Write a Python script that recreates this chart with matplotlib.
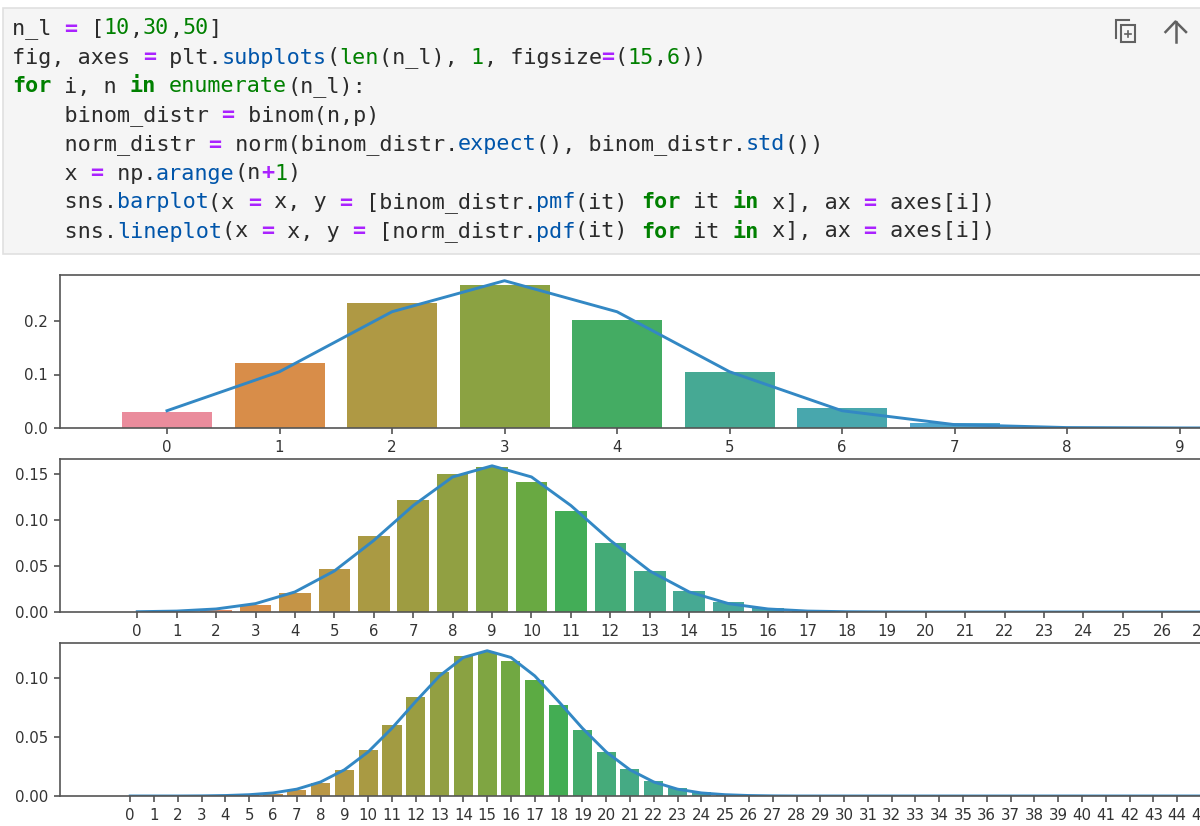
import matplotlib
matplotlib.use("Agg")
import matplotlib.pyplot as plt
import seaborn as sns
from matplotlib.patches import Rectangle

W, H = 1200, 826

# ----------------
# data
# ----------------
pmf_10 = [0.029, 0.122, 0.234, 0.267, 0.201, 0.104, 0.038, 0.009, 0.001, 0.0001, 0.0]
pdf_10 = [0.0323, 0.1052, 0.2173, 0.2753, 0.2173, 0.1052, 0.0323, 0.0063, 0.0008, 0.0001, 0.0]

pmf_30 = [0.0, 0.0003, 0.0018, 0.0072, 0.0209, 0.0464, 0.0829, 0.1219, 0.1501, 0.1573,
          0.1416, 0.1103, 0.0749, 0.0444, 0.0231, 0.0106, 0.0042, 0.0015, 0.0005, 0.0001,
          0.0, 0.0, 0.0, 0.0, 0.0, 0.0, 0.0, 0.0, 0.0, 0.0, 0.0]
pdf_30 = [0.0003, 0.001, 0.0033, 0.0091, 0.0218, 0.0446, 0.0778, 0.1157, 0.1468, 0.1589,
          0.1468, 0.1157, 0.0778, 0.0446, 0.0218, 0.0091, 0.0033, 0.001, 0.0003, 0.0001,
          0.0, 0.0, 0.0, 0.0, 0.0, 0.0, 0.0, 0.0, 0.0, 0.0, 0.0]

pmf_50 = [0.0, 0.0, 0.0, 0.0, 0.0001, 0.0006, 0.0018, 0.0048, 0.011, 0.022,
          0.0386, 0.0602, 0.0838, 0.105, 0.1189, 0.1223, 0.1147, 0.0983, 0.0772, 0.0557,
          0.037, 0.0227, 0.0128, 0.0067, 0.0032, 0.0014, 0.0006, 0.0002, 0.0001, 0.0,
          0.0, 0.0, 0.0, 0.0, 0.0, 0.0, 0.0, 0.0, 0.0, 0.0,
          0.0, 0.0, 0.0, 0.0, 0.0, 0.0, 0.0, 0.0, 0.0, 0.0, 0.0]
pdf_50 = [0.0, 0.0, 0.0, 0.0001, 0.0004, 0.0011, 0.0026, 0.0058, 0.0119, 0.0222,
          0.0374, 0.0575, 0.0802, 0.1018, 0.1174, 0.1231, 0.1174, 0.1018, 0.0802, 0.0575,
          0.0374, 0.0222, 0.0119, 0.0058, 0.0026, 0.0011, 0.0004, 0.0001, 0.0, 0.0,
          0.0, 0.0, 0.0, 0.0, 0.0, 0.0, 0.0, 0.0, 0.0, 0.0,
          0.0, 0.0, 0.0, 0.0, 0.0, 0.0, 0.0, 0.0, 0.0, 0.0, 0.0]

yticks_10 = [0.0, 0.1, 0.2]
yticks_30 = [0.00, 0.05, 0.10, 0.15]
yticks_50 = [0.00, 0.05, 0.10]
ylabels_10 = ["0.0", "0.1", "0.2"]
ylabels_30 = ["0.00", "0.05", "0.10", "0.15"]
ylabels_50 = ["0.00", "0.05", "0.10"]

# ----------------
# notebook cell text: (text, style) per line
# ----------------
code_lines = [
    [("n_l ", "t"), ("=", "o"), (" [", "t"), ("10", "n"), (",", "t"), ("30", "n"), (",", "t"), ("50", "n"), ("]", "t")],
    [("fig, axes ", "t"), ("=", "o"), (" plt.", "t"), ("subplots", "f"), ("(", "t"), ("len", "n"), ("(n_l), ", "t"),
     ("1", "n"), (", figsize", "t"), ("=", "o"), ("(", "t"), ("15", "n"), (",", "t"), ("6", "n"), ("))", "t")],
    [("for", "k"), (" i, n ", "t"), ("in", "k"), (" ", "t"), ("enumerate", "n"), ("(n_l):", "t")],
    [("    binom_distr ", "t"), ("=", "o"), (" binom(n,p)", "t")],
    [("    norm_distr ", "t"), ("=", "o"), (" norm(binom_distr.", "t"), ("expect", "f"), ("(), binom_distr.", "t"),
     ("std", "f"), ("())", "t")],
    [("    x ", "t"), ("=", "o"), (" np.", "t"), ("arange", "f"), ("(n", "t"), ("+", "o"), ("1", "n"), (")", "t")],
    [("    sns.", "t"), ("barplot", "f"), ("(x ", "t"), ("=", "o"), (" x, y ", "t"), ("=", "o"), (" [binom_distr.", "t"),
     ("pmf", "f"), ("(it) ", "t"), ("for", "k"), (" it ", "t"), ("in", "k"), (" x], ax ", "t"), ("=", "o"), (" axes[i])", "t")],
    [("    sns.", "t"), ("lineplot", "f"), ("(x ", "t"), ("=", "o"), (" x, y ", "t"), ("=", "o"), (" [norm_distr.", "t"),
     ("pdf", "f"), ("(it) ", "t"), ("for", "k"), (" it ", "t"), ("in", "k"), (" x], ax ", "t"), ("=", "o"), (" axes[i])", "t")],
]
code_styles = {
    "t": ("#2b2b2b", "normal"),
    "o": ("#aa22ff", "bold"),
    "n": ("#008000", "normal"),
    "k": ("#008000", "bold"),
    "f": ("#0055aa", "normal"),
}

fig = plt.figure(figsize=(W / 100, H / 100), dpi=100, facecolor="white")

# -----------------------------
# cell background, code and icons, drawn in pixel coordinates
# -----------------------------
bg = fig.add_axes([0, 0, 1, 1], zorder=0)
bg.set_xlim(0, W)
bg.set_ylim(H, 0)
bg.axis("off")
bg.add_patch(Rectangle((3, 8), 1220, 246, facecolor="#f5f5f5", edgecolor="#e0e0e0", linewidth=1.2))

char_w = 13.1
for row, tokens in enumerate(code_lines):
    col = 0
    for text, style in tokens:
        color, weight = code_styles[style]
        bg.text(12 + col * char_w, 34.5 + row * 29, text, family="DejaVu Sans Mono", fontsize=15.67,
                color=color, fontweight=weight, va="baseline", ha="left")
        col += len(text)

icon_color = "#616161"
bg.plot([1116, 1116, 1129], [38, 20, 20], color=icon_color, lw=1.5, solid_joinstyle="miter")
bg.add_patch(Rectangle((1121, 25), 14, 17, facecolor="none", edgecolor=icon_color, linewidth=1.5))
bg.plot([1124.5, 1130.5], [33.5, 33.5], color=icon_color, lw=1.2)
bg.plot([1127.5, 1127.5], [30.5, 36.5], color=icon_color, lw=1.2)
bg.plot([1175.5, 1175.5], [42, 22], color=icon_color, lw=1.8)
bg.plot([1165.5, 1175.5, 1186], [32, 21.5, 32], color=icon_color, lw=1.8)


# -----------------------------
# subplots: they run past the right edge of the picture, as in the screenshot
# -----------------------------
def draw_panel(pmf, pdf, top, bottom, x0_px, x_unit, y_unit, yticks, ylabels):
    left, right = 60, 1320
    ax = fig.add_axes([left / W, 1 - bottom / H, (right - left) / W, (bottom - top) / H], zorder=1)
    x = list(range(len(pmf)))
    # screenshot colours come out lighter than the plain seaborn husl bars
    colors = sns.husl_palette(len(pmf), h=0.01, s=0.9, l=0.68)
    colors = sns.color_palette(colors, desat=0.78)
    ax.bar(x, pmf, width=0.8, color=colors)
    ax.plot(x, pdf, color="#3388c4", lw=2.1)
    ax.set_xlim((left - x0_px) / x_unit, (right - x0_px) / x_unit)
    ax.set_ylim(0, (bottom - top) / y_unit)
    ax.set_xticks(x)
    ax.set_xticklabels([str(i) for i in x])
    ax.set_yticks(yticks)
    ax.set_yticklabels(ylabels)
    ax.tick_params(labelsize=10.8, labelcolor="#333333", color="#444444", width=1.1, length=4, pad=4.5)
    for spine in ax.spines.values():
        spine.set_color("#555555")
        spine.set_linewidth(1.2)
    return ax


draw_panel(pmf_10, pdf_10, 275, 428, 167, 112.5, 535, yticks_10, ylabels_10)
draw_panel(pmf_30, pdf_30, 459, 612, 137.3, 39.46, 920, yticks_30, ylabels_30)
draw_panel(pmf_50, pdf_50, 643, 796, 130.7, 23.95, 1180, yticks_50, ylabels_50)

fig.savefig("out.png", dpi=100)
